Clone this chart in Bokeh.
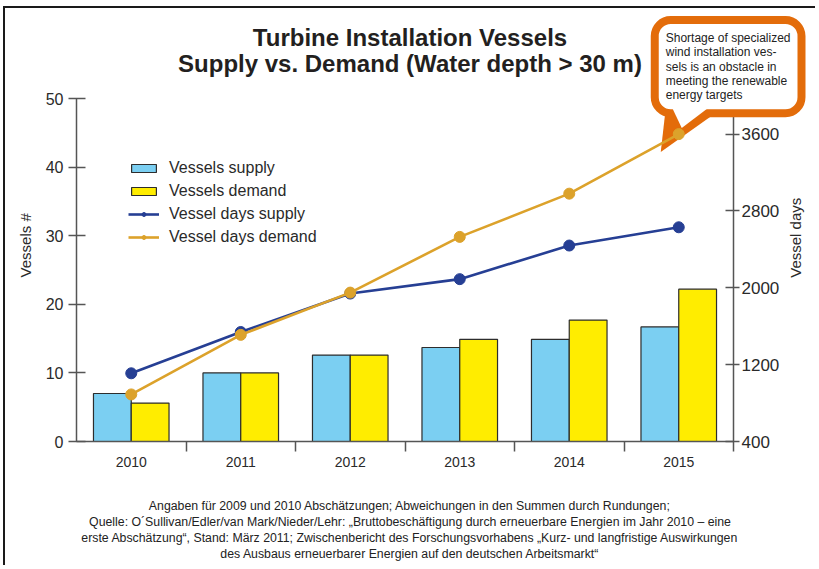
import math
from bokeh.plotting import figure
from bokeh.models import (Range1d, LinearAxis, FixedTicker, Legend, LegendItem,
                          Label, PolyAnnotation)
from bokeh.embed import file_html
from bokeh.resources import INLINE

# ---------------- data ----------------
years = ["2010", "2011", "2012", "2013", "2014", "2015"]
vessels_supply = [7.0, 10.0, 12.6, 13.7, 14.9, 16.7]
vessels_demand = [5.6, 10.0, 12.6, 14.9, 17.7, 22.2]
days_supply = [1110, 1540, 1940, 2090, 2440, 2630]
days_demand = [890, 1510, 1950, 2530, 2980, 3600]
left_ticks = [0, 10, 20, 30, 40, 50]
right_ticks = [400, 1200, 2000, 2800, 3600]

title_lines = ["Turbine Installation Vessels",
               "Supply vs. Demand (Water depth > 30 m)"]
callout_text = ("Shortage of specialized\nwind installation ves-\nsels is an obstacle in\n"
                "meeting the renewable\nenergy targets")
footnote_lines = [
    "Angaben für 2009 und 2010 Abschätzungen; Abweichungen in den Summen durch Rundungen;",
    "Quelle: O´Sullivan/Edler/van Mark/Nieder/Lehr: „Bruttobeschäftigung durch erneuerbare Energien im Jahr 2010 – eine",
    "erste Abschätzung“, Stand: März 2011; Zwischenbericht des Forschungsvorhabens „Kurz- und langfristige Auswirkungen",
    "des Ausbaus erneuerbarer Energien auf den deutschen Arbeitsmarkt“",
]

# ---------------- style ----------------
FONT = "Liberation Sans"
TXT = "#2a2a2a"
AX = "#555555"
C_SUP_BAR = "#7BCFF2"
C_DEM_BAR = "#FFED00"
C_SUP_LINE = "#263F94"
C_DEM_LINE = "#DCA22B"
C_ORANGE = "#E36C0A"

n = len(years)
xc = [i + 0.5 for i in range(n)]
bw = 0.345
x_sup = [x - bw / 2 for x in xc]
x_dem = [x + bw / 2 for x in xc]

# ---------------- geometry ----------------
# The frame covers the whole canvas so that titles, notes and the callout are
# never clipped; the axes are pinned to their data positions.
CANVAS_W, CANVAS_H = 812, 559
ORIGIN_X_PX = 71          # px from canvas left to the category start
ORIGIN_Y_PX = 433         # px from canvas top to the zero line
PX_PER_CAT = 657 / 6.0
PX_PER_VES = 343 / 50.0
DAYS_PER_PX = 3200 / 307.4

x_lo = -ORIGIN_X_PX / PX_PER_CAT
x_hi = (CANVAS_W - ORIGIN_X_PX) / PX_PER_CAT
y_lo = -(CANVAS_H - ORIGIN_Y_PX) / PX_PER_VES
y_hi = ORIGIN_Y_PX / PX_PER_VES
d0 = right_ticks[0]
days_lo = d0 - (CANVAS_H - ORIGIN_Y_PX) * DAYS_PER_PX
days_hi = d0 + ORIGIN_Y_PX * DAYS_PER_PX


def days_to_left(d):
    return (d - d0) / DAYS_PER_PX / PX_PER_VES


p = figure(width=CANVAS_W, height=CANVAS_H, output_backend="svg", toolbar_location=None,
           x_range=Range1d(x_lo, x_hi), y_range=Range1d(y_lo, y_hi),
           min_border_left=0, min_border_right=0, min_border_top=0, min_border_bottom=0)
p.extra_y_ranges = {"days": Range1d(days_lo, days_hi)}
p.xgrid.grid_line_color = None
p.ygrid.grid_line_color = None
p.outline_line_color = None
p.background_fill_color = "white"
p.border_fill_color = "white"
p.styles = {"margin-left": "3px", "margin-top": "6px",
            "border-left": "2px solid #1a1a1a", "border-top": "2px solid #1a1a1a"}

# x axis
xa = p.xaxis[0]
xa.fixed_location = 0
xa.bounds = (0, n)
xa.ticker = FixedTicker(ticks=xc, minor_ticks=list(range(1, n + 1)))
xa.major_label_overrides = {x: y for x, y in zip(xc, years)}
xa.axis_line_color = AX
xa.axis_line_width = 1.5
xa.major_tick_line_color = None
xa.major_tick_in = 0
xa.major_tick_out = 0
xa.minor_tick_line_color = AX
xa.minor_tick_line_width = 1.5
xa.minor_tick_in = 0
xa.minor_tick_out = 10
xa.major_label_standoff = 5
xa.major_label_text_font = FONT
xa.major_label_text_font_size = "14px"
xa.major_label_text_color = TXT

# left axis
ya = p.yaxis[0]
ya.fixed_location = 0
ya.bounds = (left_ticks[0], left_ticks[-1])
ya.ticker = FixedTicker(ticks=left_ticks)
ya.axis_line_color = AX
ya.axis_line_width = 1.5
ya.major_tick_line_color = AX
ya.major_tick_line_width = 1.3
ya.major_tick_in = 9
ya.major_tick_out = 8
ya.minor_tick_line_color = None
ya.major_label_standoff = 5
ya.major_label_text_font = FONT
ya.major_label_text_font_size = "16px"
ya.major_label_text_color = TXT

# right axis
ra = LinearAxis(y_range_name="days", ticker=FixedTicker(ticks=right_ticks),
                fixed_location=n, bounds=(right_ticks[0], 4000))
ra.axis_line_color = AX
ra.axis_line_width = 1.5
ra.major_tick_line_color = AX
ra.major_tick_line_width = 1.3
ra.major_tick_in = 8
ra.major_tick_out = 6
ra.minor_tick_line_color = None
ra.major_label_standoff = 2
ra.major_label_text_font = FONT
ra.major_label_text_font_size = "17px"
ra.major_label_text_color = TXT
p.add_layout(ra, "right")


# callout tail (glyph, under the lines)
def tail(pts):
    return ([xc[-1] + dx / PX_PER_CAT for dx, dy in pts],
            [days_to_left(days_demand[-1]) - dy / PX_PER_VES for dx, dy in pts])


ox, oy = tail([(-13, -26), (44, -26), (-18, 18)])
p.patch(ox, oy, fill_color=C_ORANGE, line_color=None)

# bars
b1 = p.vbar(x=x_sup, top=vessels_supply, bottom=0, width=bw, fill_color=C_SUP_BAR,
            line_color="#2d2d2d", line_width=1.2)
b2 = p.vbar(x=x_dem, top=vessels_demand, bottom=0, width=bw, fill_color=C_DEM_BAR,
            line_color="#2d2d2d", line_width=1.2)

# lines
l1 = p.line(xc, days_supply, y_range_name="days", line_color=C_SUP_LINE, line_width=2.6)
s1 = p.scatter(xc, days_supply, y_range_name="days", size=11, fill_color=C_SUP_LINE,
               line_color=C_SUP_LINE)
l2 = p.line(xc, days_demand, y_range_name="days", line_color=C_DEM_LINE, line_width=2.6)
s2 = p.scatter(xc, days_demand, y_range_name="days", size=11, fill_color=C_DEM_LINE,
               line_color=C_DEM_LINE)

legend = Legend(items=[
    LegendItem(label="Vessels supply", renderers=[b1]),
    LegendItem(label="Vessels demand", renderers=[b2]),
    LegendItem(label="Vessel days supply", renderers=[l1, s1]),
    LegendItem(label="Vessel days demand", renderers=[l2, s2]),
], location=(52 + ORIGIN_X_PX, 195 + CANVAS_H - ORIGIN_Y_PX), glyph_width=31,
    glyph_height=10, label_standoff=10, spacing=5, padding=0, margin=0,
    border_line_color=None, background_fill_alpha=0, label_text_font=FONT,
    label_text_font_size="16px", label_text_color=TXT)
p.add_layout(legend)

# axis titles
p.add_layout(Label(x=0, x_offset=-51, y=28.6, text="Vessels #", angle=math.pi / 2,
                   text_align="center", text_baseline="middle", text_font=FONT,
                   text_font_size="15px", text_color=TXT))
p.add_layout(Label(x=n, x_offset=62, y=29.7, text="Vessel days", angle=math.pi / 2,
                   text_align="center", text_baseline="middle", text_font=FONT,
                   text_font_size="15px", text_color=TXT))

# chart title
for line, yv in zip(title_lines, [58.9, 55.1]):
    p.add_layout(Label(x=n / 2, x_offset=5, y=yv, text=line, text_align="center",
                       text_baseline="middle", text_font=FONT, text_font_size="24px",
                       text_font_style="bold", text_color="#231F20"))

# callout box anchored at the last demand point
callout = Label(x=xc[-1], y=days_demand[-1], y_range_name="days", x_offset=-24,
                y_offset=114, text=callout_text, text_font=FONT, text_font_size="12px",
                text_color="#222222", text_line_height=1.02, text_align="left",
                text_baseline="top", background_fill_color="white",
                border_line_color=C_ORANGE, border_line_width=8, border_radius=16,
                padding=11)
p.add_layout(callout)

ix, iy = tail([(-6, -25), (28, -25), (3, -6)])
p.add_layout(PolyAnnotation(xs=ix, ys=iy, fill_color="white", fill_alpha=1,
                            line_color=None))

# footnotes
for i, line in enumerate(footnote_lines):
    p.add_layout(Label(x=n / 2, x_offset=5, y=-(64 + 16 * i) / PX_PER_VES, text=line,
                       text_align="center", text_baseline="middle", text_font=FONT,
                       text_font_size="12.3px", text_color="#222222"))

open("out.html", "w").write(file_html(p, INLINE))
